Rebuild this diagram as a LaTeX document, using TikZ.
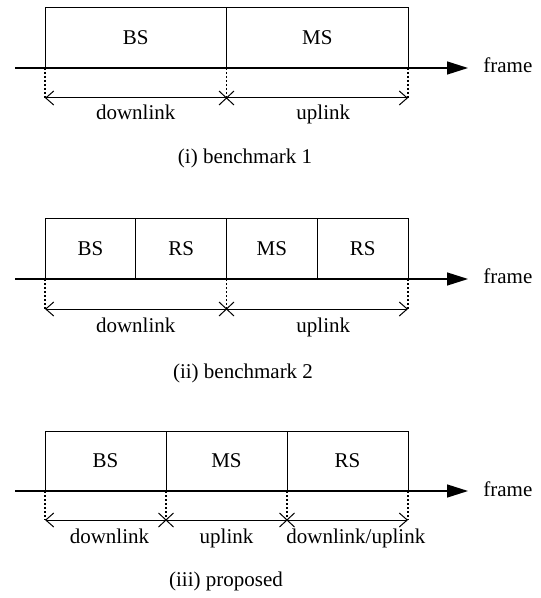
\documentclass[tikz,border=0pt]{standalone}
\usepackage{fontspec}
\setmainfont{Liberation Serif}
\usetikzlibrary{calc, positioning, arrows.meta, shapes.misc}

\begin{document}
\begin{tikzpicture}[x=0.5pt, y=-0.5pt,
  font=\fontsize{10.5}{12.6}\selectfont,
  >={Straight Barb[length=4pt, width=7pt]},
  slot/.style={draw, line width=0.5pt, minimum height=30pt, inner sep=0pt, outer sep=0pt},
  timeline/.style={line width=0.7pt, -{Triangle[length=10.5pt, width=6.5pt]}},
  guide/.style={line width=0.6pt, dash pattern=on 1pt off 1pt},
  span/.style={line width=0.5pt},
  cut/.style={cross out, draw, line width=0.5pt, minimum width=7pt, minimum height=6.5pt, inner sep=0pt},
  lbl/.style={anchor=base}]
\useasboundingbox (0,0) rectangle (540,598);
% (i) benchmark 1 %
\node[slot, minimum width=90.75pt, anchor=south west] (bs1) at (45,68) {BS};
\node[slot, minimum width=90.75pt, right=0pt of bs1] (ms1) {MS};
\coordinate (o1) at (15,68);
\coordinate (e1) at (468,68);
\node[anchor=base west, inner sep=0pt] (fr1) at (483,73) {frame};
\coordinate (p1) at ($(bs1.south west)+(0,30)$);
\coordinate (q1) at ($(ms1.south west)+(0,30)$);
\coordinate (r1) at ($(ms1.south east)+(0,30)$);
\node[cut] (c1) at (q1) {};
\node[lbl] (dl1) at ($(p1)!.5!(q1)+(0,22)$) {downlink};
\node[lbl] (ul1) at ($(q1)!.5!(r1)+(6,22)$) {uplink};
\node[lbl] (cap1) at (245,164) {(i) benchmark 1};
% (ii) benchmark 2 %
\node[slot, minimum width=45.375pt, anchor=south west] (bs2) at (45,279) {BS};
\node[slot, minimum width=45.375pt, right=0pt of bs2] (rsa2) {RS};
\node[slot, minimum width=45.375pt, right=0pt of rsa2] (ms2) {MS};
\node[slot, minimum width=45.375pt, right=0pt of ms2] (rsb2) {RS};
\coordinate (o2) at (15,279);
\coordinate (e2) at (468,279);
\node[anchor=base west, inner sep=0pt] (fr2) at (483,284) {frame};
\coordinate (p2) at ($(bs2.south west)+(0,30)$);
\coordinate (q2) at ($(ms2.south west)+(0,30)$);
\coordinate (r2) at ($(rsb2.south east)+(0,30)$);
\node[cut] (c2) at (q2) {};
\node[lbl] (dl2) at ($(p2)!.5!(q2)+(0,23)$) {downlink};
\node[lbl] (ul2) at ($(q2)!.5!(r2)+(6,23)$) {uplink};
\node[lbl] (cap2) at (243,378) {(ii) benchmark 2};
% (iii) proposed %
\node[slot, minimum width=60.5pt, anchor=south west] (bs3) at (45,491) {BS};
\node[slot, minimum width=60.5pt, right=0pt of bs3] (ms3) {MS};
\node[slot, minimum width=60.5pt, right=0pt of ms3] (rs3) {RS};
\coordinate (o3) at (15,491);
\coordinate (e3) at (468,491);
\node[anchor=base west, inner sep=0pt] (fr3) at (483,496) {frame};
\coordinate (p3) at ($(bs3.south west)+(0,29)$);
\coordinate (q3) at ($(ms3.south west)+(0,29)$);
\coordinate (s3) at ($(rs3.south west)+(0,29)$);
\coordinate (r3) at ($(rs3.south east)+(0,29)$);
\node[cut] (c3) at (q3) {};
\node[cut] (d3) at (s3) {};
\node[lbl] (dl3) at ($(p3)!.5!(q3)+(4,23)$) {downlink};
\node[lbl] (ul3) at ($(q3)!.5!(s3)+(0,23)$) {uplink};
\node[lbl, anchor=base west, inner sep=0pt] (du3) at ($(s3)+(-1,23)$) {downlink/uplink};
\node[lbl] (cap3) at (226,586) {(iii) proposed};
% edges %
\draw[timeline] (o1) -- (e1);
\draw[timeline] (o2) -- (e2);
\draw[timeline] (o3) -- (e3);
\draw[guide] (bs1.south west) -- (p1);
\draw[guide] (ms1.south west) -- (q1);
\draw[guide] (ms1.south east) -- (r1);
\draw[guide] (bs2.south west) -- (p2);
\draw[guide] (ms2.south west) -- (q2);
\draw[guide] (rsb2.south east) -- (r2);
\draw[guide] (bs3.south west) -- (p3);
\draw[guide] (ms3.south west) -- (q3);
\draw[guide] (rs3.south west) -- (s3);
\draw[guide] (rs3.south east) -- (r3);
\draw[span, <-] (p1) -- (q1);
\draw[span, ->] (q1) -- (r1);
\draw[span, <-] (p2) -- (q2);
\draw[span, ->] (q2) -- (r2);
\draw[span, <-] (p3) -- (q3);
\draw[span] (q3) -- (s3);
\draw[span, ->] (s3) -- (r3);
\end{tikzpicture}
\end{document}
